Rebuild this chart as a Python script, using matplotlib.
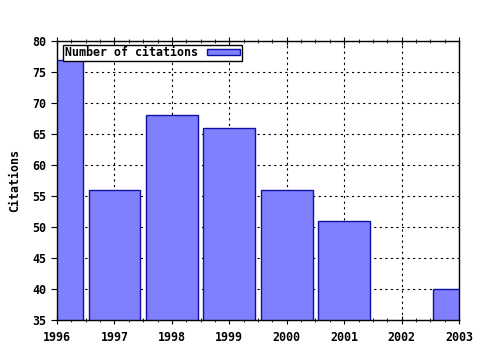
import matplotlib
matplotlib.use("Agg")
import matplotlib.pyplot as plt
from matplotlib.ticker import MultipleLocator
import numpy as np

years = [1996, 1997, 1998, 1999, 2000, 2001, 2002, 2003]
citations = [77, 56, 68, 66, 56, 51, 0, 40]
yticks = [35, 40, 45, 50, 55, 60, 65, 70, 75, 80]

FS = 8.4
font = {'family': 'DejaVu Sans Mono', 'weight': 'bold', 'size': FS}

fig = plt.figure(figsize=(4.8, 3.5), dpi=100)
ax = fig.add_axes([57/480, 1-320/350, (459-57)/480, (320-41)/350])

ax.bar(years, citations, width=0.9, color='#8080ff', edgecolor='#1010a0',
       linewidth=1.0, label='Number of citations', zorder=2)

ax.set_xlim(1996, 2003)
ax.set_ylim(35, 80)
ax.set_xticks(years)
ax.set_yticks(yticks)
ax.set_xticklabels([str(y) for y in years], fontdict=font)
ax.set_yticklabels([str(v) for v in yticks], fontdict=font)
ax.xaxis.set_minor_locator(MultipleLocator(0.25))
ax.tick_params(axis='x', which='major', direction='inout', length=6, top=True, pad=5)
ax.tick_params(axis='x', which='minor', direction='inout', length=3, top=True)
ax.tick_params(axis='y', which='major', direction='out', length=4, pad=4)
ax.grid(True, which='major', linestyle=(0, (2, 3)), color='black', linewidth=0.8, zorder=1)
ax.set_axisbelow(True)
for s in ax.spines.values():
    s.set_linewidth(1.0)

ax.set_ylabel('Citations', fontdict=font, labelpad=8)

leg = ax.legend(loc='upper left', bbox_to_anchor=(6/402, 1-3.5/279),
                prop={'family': 'DejaVu Sans Mono', 'weight': 'bold', 'size': FS},
                frameon=True, fancybox=False, edgecolor='black', framealpha=1,
                markerfirst=False, handlelength=2.9, handleheight=0.45,
                borderpad=0.15, borderaxespad=0.0, handletextpad=0.75)
leg.get_frame().set_linewidth(1.0)

fig.savefig('out.png', dpi=100)
